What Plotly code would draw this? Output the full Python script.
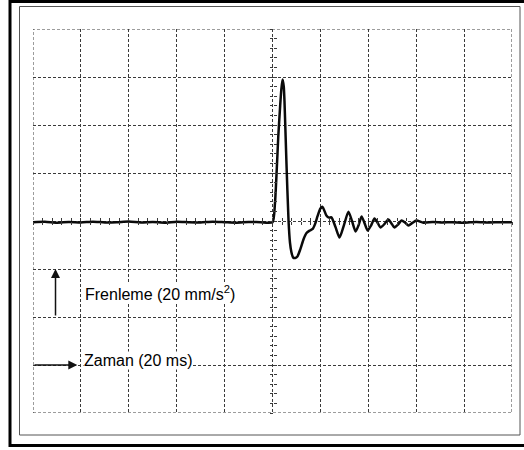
import plotly.graph_objects as go

# Braking deceleration trace (oscilloscope capture), 20 ms/div, 20 mm/s^2 per div
time_ms = [
    -100, -95, -90, -85, -80, -75, -70, -65, -60, -55, -50, -45, -40, -35, -30,
    -25, -20, -15, -10, -5, 0,
    1.0, 1.8, 2.4, 3.2, 3.7, 4.2, 4.7, 5.0, 5.8, 6.7, 7.3, 7.9, 8.6, 9.5, 10.4,
    11.7, 13.0, 14.2, 15.5, 16.8, 17.8, 18.8, 20.0, 20.9, 22.5, 23.6, 24.6,
    26.3, 28.0, 29.9, 31.7, 33.2, 34.7, 36.0, 37.2, 38.4, 39.7, 41.2, 42.6,
    43.8, 45.1, 46.8, 48.4, 49.6, 50.9, 52.4, 53.9, 55.3, 56.8, 58.4, 60.1,
    63, 67, 71, 75, 80, 85, 90, 95, 100,
]
accel = [
    -0.5, -0.3, -0.7, -0.4, -0.6, -0.3, -0.6, -0.5, -0.2, -0.6, -0.4, -0.7, -0.3,
    -0.5, -0.6, -0.3, -0.5, -0.7, -0.4, -0.5, -0.5,
    7, 22, 35, 48, 55, 59, 56, 50, 25, 0, -9, -13, -15.2, -15.4, -14.8,
    -11.5, -7.5, -5.0, -4.0, -3.3, -1.2, 2.0, 5.2, 5.9, 2.3, 1.4, 1.5,
    -2.5, -6.9, -1.5, 3.9, 0.0, -4.4, -1.6, 1.9, -0.8, -4.0, -1.8, 1.0,
    -0.6, -2.7, -1.2, 0.6, -0.9, -2.7, -1.5, 0.2, -0.6, -1.9, -0.8, 0.2,
    -0.7, -0.4, -0.6, -0.5, -0.7, -0.4, -0.6, -0.5, -0.5,
]

x_range = [-100, 100]
y_range = [-80, 80]
x_div = 20
y_div = 20
minor_step_x = 4
minor_step_y = 4

grid_color = "#3a3a3a"
dash = "3px,2px"

fig = go.Figure()

fig.add_trace(go.Scatter(
    x=time_ms, y=accel, mode="lines",
    line=dict(color="#0a0a0a", width=2.5, shape="spline", smoothing=0.6),
    hoverinfo="skip", showlegend=False,
))

# Empty traces that activate the centre graticule axes
for xa, ya in [("x2", "y"), ("x3", "y"), ("x", "y2"), ("x", "y3")]:
    fig.add_trace(go.Scatter(x=[None], y=[None], xaxis=xa, yaxis=ya,
                             showlegend=False, hoverinfo="skip"))

base_axis = dict(range=x_range, dtick=x_div, showgrid=True, griddash=dash,
                 gridcolor=grid_color, gridwidth=1, zeroline=False,
                 showticklabels=False, ticks="", showline=False, fixedrange=True)

center_tick_x = dict(range=x_range, overlaying="x", anchor="free", position=0.5,
                     tick0=0, dtick=minor_step_x, ticklen=3, tickwidth=1,
                     tickcolor=grid_color, showgrid=False, zeroline=False,
                     showticklabels=False, showline=False)
center_tick_y = dict(range=y_range, overlaying="y", anchor="free", position=0.5,
                     tick0=0, dtick=minor_step_y, ticklen=3, tickwidth=1,
                     tickcolor=grid_color, showgrid=False, zeroline=False,
                     showticklabels=False, showline=False)

L, R, T, B = 33, 12, 29, 37
W, H = 524, 450
pw, ph = W - L - R, H - T - B


def px(xp):
    return (xp - L) / pw


def py(yp):
    return (H - B - yp) / ph


shapes = [
    # dashed graticule border
    dict(type="rect", xref="x", yref="y", x0=x_range[0], x1=x_range[1],
         y0=y_range[0], y1=y_range[1],
         line=dict(color=grid_color, width=1, dash=dash)),
    # outer frame
    dict(type="rect", xref="paper", yref="paper", x0=px(10), x1=px(527),
         y0=py(1.5), y1=py(445.5), line=dict(color="#000000", width=3)),
    # inner frame
    dict(type="rect", xref="paper", yref="paper", x0=px(19.5), x1=px(520),
         y0=py(6.5), y1=py(435), line=dict(color="#555555", width=1)),
]

font = dict(family="Liberation Sans, Arial, sans-serif", size=16, color="#000000")

annotations = [
    dict(x=-78.8, y=-30, xref="x", yref="y", xanchor="left", yanchor="middle",
         text="Frenleme (20 mm/s<sup>2</sup>)", showarrow=False, font=font,
         bgcolor="white", borderpad=0),
    dict(x=-79.2, y=-58.2, xref="x", yref="y", xanchor="left", yanchor="middle",
         text="Zaman (20 ms)", showarrow=False, font=font,
         bgcolor="white", borderpad=0),
    # vertical axis arrow
    dict(x=-90.6, y=-20, ax=-90.6, ay=-40, xref="x", yref="y", axref="x", ayref="y",
         text="", showarrow=True, arrowhead=2, arrowsize=1.2, arrowwidth=1.5,
         arrowcolor="#111111"),
    # horizontal axis arrow
    dict(x=-81.5, y=-60, ax=-100, ay=-60, xref="x", yref="y", axref="x", ayref="y",
         text="", showarrow=True, arrowhead=2, arrowsize=1.2, arrowwidth=1.5,
         arrowcolor="#111111"),
]

fig.update_layout(
    width=W, height=H,
    margin=dict(l=L, r=R, t=T, b=B, pad=0),
    paper_bgcolor="white", plot_bgcolor="white",
    showlegend=False,
    xaxis=base_axis,
    yaxis=dict(base_axis, range=y_range, dtick=y_div),
    xaxis2=dict(center_tick_x, ticks="inside"),
    xaxis3=dict(center_tick_x, ticks="outside"),
    yaxis2=dict(center_tick_y, ticks="inside"),
    yaxis3=dict(center_tick_y, ticks="outside"),
    shapes=shapes,
    annotations=annotations,
)

fig.write_html("out.html", config={"displayModeBar": False})
